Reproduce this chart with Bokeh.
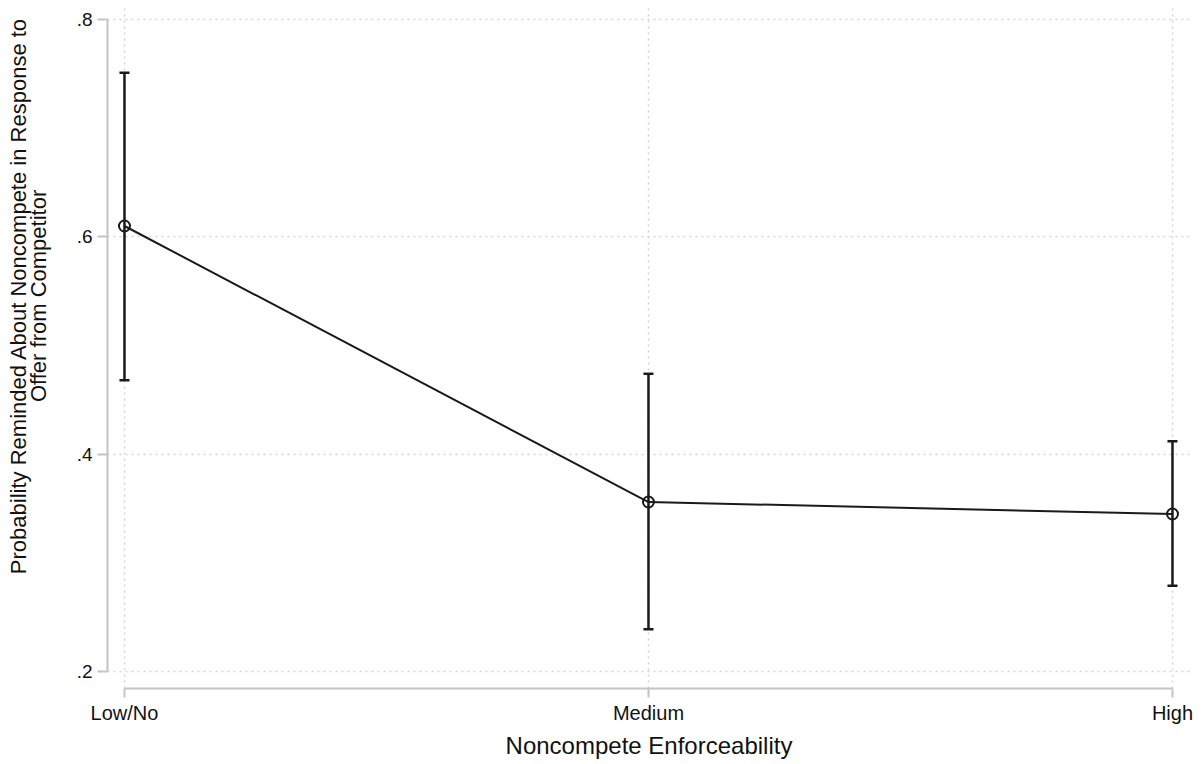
import math
from bokeh.plotting import figure
from bokeh.layouts import row
from bokeh.models import Range1d, FixedTicker, Whisker, ColumnDataSource, TeeHead
from bokeh.core.properties import value
from bokeh.embed import file_html
from bokeh.resources import INLINE

categories = ["Low/No", "Medium", "High"]
estimate = [0.610, 0.356, 0.345]
lower = [0.468, 0.239, 0.279]
upper = [0.751, 0.474, 0.412]
y_ticks = [0.2, 0.4, 0.6, 0.8]
y_tick_labels = [".2", ".4", ".6", ".8"]
x_title = "Noncompete Enforceability"
y_title = "Probability Reminded About Noncompete in Response to\nOffer from Competitor"

xs = list(range(len(categories)))
src = ColumnDataSource(dict(x=xs, y=estimate, lo=lower, hi=upper))

FONT = "Liberation Sans"
AXIS_GREY = "#c4c4c4"
GRID_GREY = "#d4d4d4"
INK = "#111111"
H = 762
TW = 55

# narrow strip holding the y title (placed like the reference)
t = figure(width=TW, height=H, output_backend="svg", toolbar_location=None,
           x_range=Range1d(0, TW), y_range=Range1d(0, H),
           x_axis_location=None, y_axis_location=None, min_border=0)
t.outline_line_color = None
t.xgrid.visible = False
t.ygrid.visible = False
t.text(x=[28], y=[H - 324], text=[y_title], angle=math.pi / 2,
       text_align="center", text_baseline="middle",
       text_font=value(FONT), text_font_size="22px", text_color=INK,
       text_line_height=0.8)

p = figure(width=1200 - TW, height=H, output_backend="svg", toolbar_location=None,
           x_range=Range1d(-0.0324, 2.0344), y_range=Range1d(0.1844, 0.8129),
           min_border_left=107 - TW, min_border_right=10, min_border_top=5, min_border_bottom=74)
p.outline_line_color = None
p.background_fill_color = "white"
p.border_fill_color = "white"

# grids
p.xgrid.ticker = FixedTicker(ticks=xs)
p.ygrid.ticker = FixedTicker(ticks=y_ticks)
for g in (p.xgrid, p.ygrid):
    g.grid_line_color = GRID_GREY
    g.grid_line_dash = "2 4"
    g.grid_line_width = 1.5

# x axis
xa = p.xaxis[0]
xa.ticker = FixedTicker(ticks=xs)
xa.major_label_overrides = {i: c for i, c in zip(xs, categories)}
xa.bounds = (xs[0], xs[-1])
xa.axis_line_color = AXIS_GREY
xa.axis_line_width = 2
xa.major_tick_line_color = AXIS_GREY
xa.major_tick_line_width = 2
xa.major_tick_out = 9
xa.major_tick_in = 0
xa.minor_tick_line_color = None
xa.major_label_text_font = FONT
xa.major_label_text_font_size = "20px"
xa.major_label_text_color = INK
xa.major_label_standoff = 4
xa.axis_label = x_title
xa.axis_label_text_font = FONT
xa.axis_label_text_font_size = "24px"
xa.axis_label_text_font_style = "normal"
xa.axis_label_text_color = INK
xa.axis_label_standoff = 5

# y axis
ya = p.yaxis[0]
ya.ticker = FixedTicker(ticks=y_ticks)
ya.major_label_overrides = {t_: l for t_, l in zip(y_ticks, y_tick_labels)}
ya.bounds = (y_ticks[0], y_ticks[-1])
ya.axis_line_color = AXIS_GREY
ya.axis_line_width = 2
ya.major_tick_line_color = AXIS_GREY
ya.major_tick_line_width = 2
ya.major_tick_out = 10
ya.major_tick_in = 0
ya.minor_tick_line_color = None
ya.major_label_text_font = FONT
ya.major_label_text_font_size = "19px"
ya.major_label_text_color = INK
ya.major_label_standoff = 5

# error bars
w = Whisker(source=src, base="x", lower="lo", upper="hi",
            line_color="#1a1a1a", line_width=2.5,
            upper_head=TeeHead(size=10, line_color="#1a1a1a", line_width=2.5),
            lower_head=TeeHead(size=10, line_color="#1a1a1a", line_width=2.5))
p.add_layout(w)

# line + markers
p.line("x", "y", source=src, line_color="#1a1a1a", line_width=2)
p.scatter("x", "y", source=src, marker="circle", size=11, fill_color=None,
          line_color="#1a1a1a", line_width=2)

layout = row(t, p)
open("out.html", "w").write(file_html(layout, INLINE))
